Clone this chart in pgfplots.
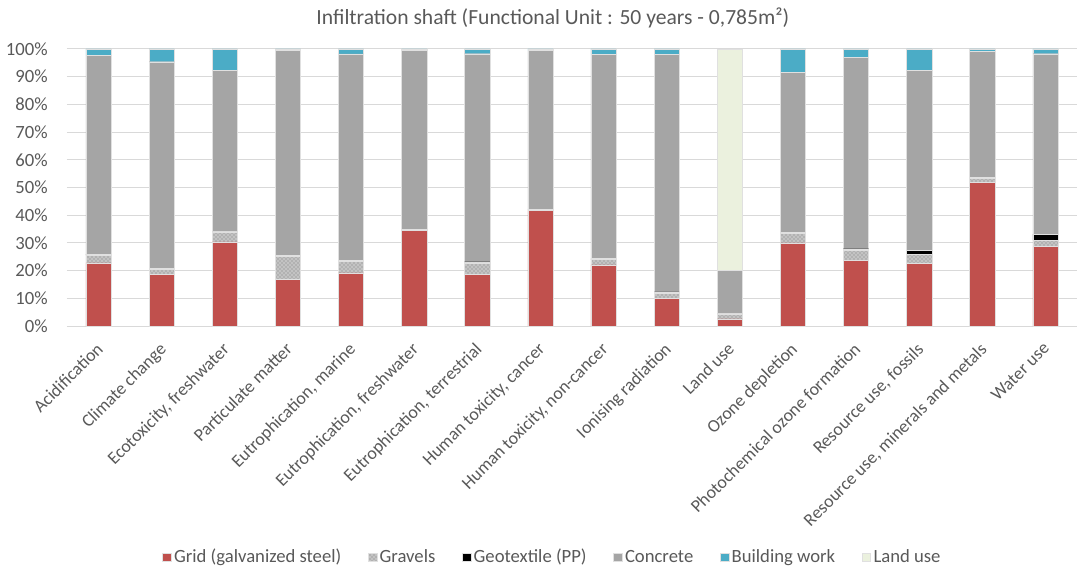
\documentclass[border=0pt]{standalone}
\usepackage{pgfplots}
\pgfplotsset{compat=1.18}
\usepackage{pgfplotstable}
\usepackage{fontspec}
\setmainfont{Carlito}
\usetikzlibrary{patterns}
\definecolor{cgrid}{HTML}{C0504D}
\definecolor{cconc}{HTML}{A5A5A5}
\definecolor{cbuild}{HTML}{4BACC6}
\definecolor{cland}{HTML}{EBF1DE}
\definecolor{ctext}{HTML}{595959}
\definecolor{cgl}{HTML}{D9D9D9}
\pgfplotstableread{
x grid gravel geo concrete building land
0  22.8 2.8 0.3  71.9 2.2 0
1  18.6 1.8 0.5  74.5 4.6 0
2  30.4 3.6 0.2  58.1 7.7 0
3  16.8 8.4 0.3  73.9 0.6 0
4  19.2 4.2 0.3  74.5 1.8 0
5  34.5 0.4 0.1  64.4 0.6 0
6  18.6 4.2 0.4  75.1 1.7 0
7  41.7 0.4 0.1  57.2 0.6 0
8  22.1 1.9 0.3  73.7 2.0 0
9  10.0 1.7 0.6  85.7 2.0 0
10  2.6 1.8 0.05 15.55 0.2 79.8
11 30.0 3.4 0.3  57.9 8.4 0
12 23.8 3.5 0.6  69.2 2.9 0
13 22.6 3.2 1.6  64.8 7.8 0
14 51.8 1.4 0.5  45.5 0.8 0
15 28.7 2.3 2.2  65.1 1.7 0
}\data
\begin{document}
\begin{tikzpicture}[x=1pt,y=1pt]
\path[use as bounding box] (0,0) rectangle (808.5,428.25);
\begin{axis}[
  at={(50.25pt,183.75pt)}, anchor=south west,
  scale only axis, width=757.5pt, height=207.75pt,
  ybar stacked, bar width=0.4,
  xmin=-0.5, xmax=15.5, ymin=0, ymax=100,
  xtick=data,
  xticklabels={Acidification,Climate change,{Ecotoxicity, freshwater},Particulate matter,{Eutrophication, marine},{Eutrophication, freshwater},{Eutrophication, terrestrial},{Human toxicity, cancer},{Human toxicity, non-cancer},Ionising radiation,Land use,Ozone depletion,Photochemical ozone formation,{Resource use, fossils},{Resource use, minerals and metals},Water use},
  ytick={0,10,...,100},
  yticklabel={\pgfmathprintnumber{\tick}\%},
  /pgf/number format/assume math mode=true,
  ymajorgrids, grid style={cgl, line width=0.75pt},
  axis line style={draw=none},
  major tick length=0pt,
  tick label style={font=\fontsize{14}{16}\selectfont, text=ctext},
  x tick label style={font=\fontsize{13.4}{16}\selectfont, xshift=-2.5pt, yshift=-10pt, rotate=45, anchor=north east, inner sep=1pt},
  y tick label style={xshift=-11pt},
  every axis plot/.append style={draw=black!12, line width=0.3pt},
  area legend,
  legend style={at={(0.481,-0.834)}, anchor=center, draw=none, legend columns=6,
    font=\fontsize{14}{16}\selectfont, text=ctext,
    /tikz/every even column/.append style={column sep=18pt}},
  legend image code/.code={\fill[#1] (0pt,-3.2pt) rectangle (6.5pt,3.2pt);},
  clip=false,
]
\addplot[fill=cgrid] table[x=x,y=grid]{\data};
\addplot[fill=gray!60, postaction={pattern=crosshatch dots, pattern color=white}] table[x=x,y=gravel]{\data};
\addplot[fill=black] table[x=x,y=geo]{\data};
\addplot[fill=cconc] table[x=x,y=concrete]{\data};
\addplot[fill=cbuild] table[x=x,y=building]{\data};
\addplot[fill=cland] table[x=x,y=land]{\data};
\legend{Grid (galvanized steel),Gravels,Geotextile (PP),Concrete,Building work,Land use}
\node[font=\fontsize{16.2}{18}\selectfont, text=ctext] at (rel axis cs:0.481,1.112) {Infiltration shaft (Functional Unit : 50 years - 0,785m²)};
\end{axis}
\end{tikzpicture}
\end{document}
